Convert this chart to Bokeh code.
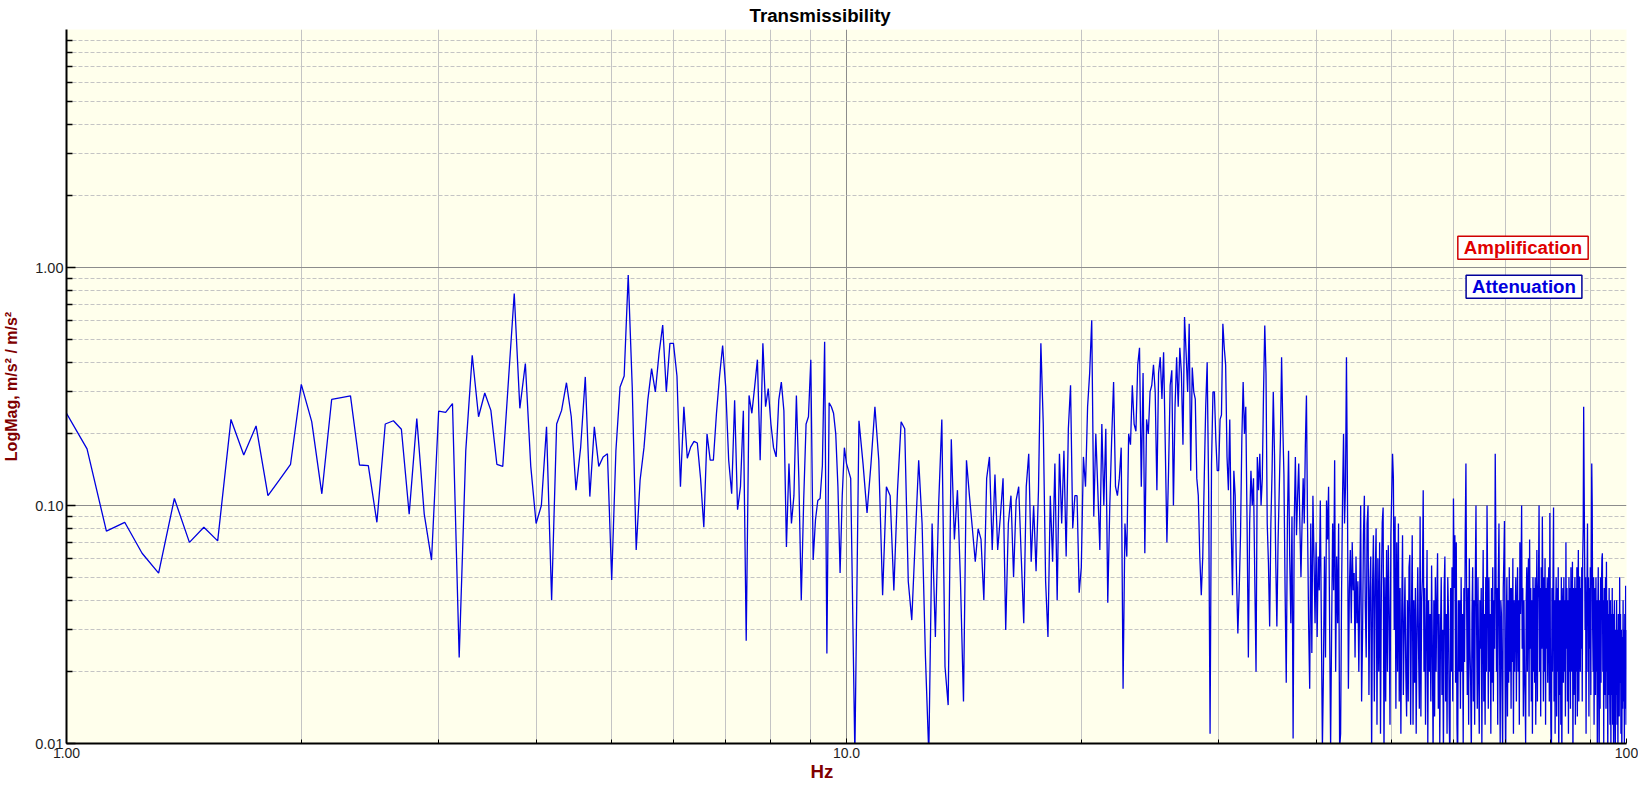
import numpy as np
from bokeh.plotting import figure
from bokeh.models import Range1d, FixedTicker, Label, Title
from bokeh.embed import file_html
from bokeh.resources import INLINE

# ---- data: transmissibility magnitude (m/s^2 / m/s^2) ----
# 1.0 .. 10.0 Hz, 0.0625 Hz resolution (one row per Hz)
mag_low = [
    0.244, 0.173, 0.078, 0.085, 0.063, 0.052, 0.107, 0.070, 0.081, 0.071, 0.230, 0.163, 0.216, 0.110, 0.128, 0.149,
    0.323, 0.225, 0.112, 0.279, 0.284, 0.289, 0.148, 0.147, 0.085, 0.220, 0.227, 0.209, 0.092, 0.232, 0.092, 0.059,
    0.249, 0.246, 0.268, 0.023, 0.17, 0.428, 0.236, 0.297, 0.251, 0.149, 0.146, 0.34, 0.778, 0.256, 0.395, 0.146,
    0.084, 0.10, 0.214, 0.040, 0.22, 0.251, 0.328, 0.236, 0.116, 0.176, 0.347, 0.109, 0.214, 0.146, 0.16, 0.165,
    0.0486, 0.17, 0.315, 0.35, 0.93, 0.315, 0.065, 0.128, 0.175, 0.277, 0.376, 0.30, 0.435, 0.573, 0.30, 0.48,
    0.48, 0.35, 0.12, 0.26, 0.158, 0.176, 0.186, 0.183, 0.13, 0.081, 0.20, 0.155, 0.155, 0.244, 0.35, 0.47,
    0.315, 0.155, 0.112, 0.277, 0.096, 0.12, 0.25, 0.027, 0.29, 0.244, 0.315, 0.41, 0.155, 0.48, 0.26, 0.31,
    0.22, 0.175, 0.16, 0.277, 0.33, 0.25, 0.067, 0.15, 0.084, 0.11, 0.29, 0.13, 0.040, 0.105, 0.22, 0.236,
    0.41, 0.059, 0.087, 0.105, 0.107, 0.147, 0.487, 0.0239, 0.27, 0.26, 0.244, 0.20, 0.12, 0.052, 0.11, 0.175,
    0.15,
]

# 10.125 .. 100 Hz, 0.125 Hz steps (one row per Hz)
mag_high = [
    0.13, 0.009, 0.227, 0.15, 0.093, 0.15, 0.26, 0.155,
    0.042, 0.12, 0.11, 0.044, 0.116, 0.225, 0.21, 0.048,
    0.033, 0.072, 0.155, 0.084, 0.023, 0.009, 0.084, 0.028,
    0.10, 0.23, 0.021, 0.0145, 0.19, 0.072, 0.116, 0.048,
    0.015, 0.155, 0.11, 0.08, 0.058, 0.08, 0.072, 0.040,
    0.13, 0.16, 0.065, 0.135, 0.065, 0.09, 0.13, 0.030,
    0.084, 0.11, 0.05, 0.105, 0.12, 0.061, 0.032, 0.12,
    0.165, 0.058, 0.10, 0.053, 0.116, 0.48, 0.22, 0.048,
    0.028, 0.11, 0.058, 0.15, 0.040, 0.165, 0.084, 0.17,
    0.061, 0.21, 0.32, 0.08, 0.11, 0.11, 0.043, 0.055,
    0.16, 0.12, 0.26, 0.36, 0.60, 0.09, 0.20, 0.116,
    0.065, 0.22, 0.10, 0.21, 0.039, 0.097, 0.19, 0.33,
    0.12, 0.11, 0.13, 0.175, 0.017, 0.084, 0.061, 0.20,
    0.18, 0.32, 0.22, 0.205, 0.39, 0.46, 0.12, 0.36,
    0.063, 0.23, 0.20, 0.30, 0.32, 0.39, 0.30, 0.116,
    0.36, 0.42, 0.28, 0.44, 0.18, 0.07, 0.14, 0.32,
    0.37, 0.10, 0.26, 0.42, 0.26, 0.46, 0.36, 0.18,
    0.62, 0.44, 0.30, 0.58, 0.14, 0.38, 0.30, 0.28,
    0.13, 0.11, 0.061, 0.042, 0.061, 0.13, 0.26, 0.40,
    0.116, 0.011, 0.15, 0.30, 0.30, 0.19, 0.14, 0.14,
    0.23, 0.24, 0.58, 0.46, 0.39, 0.16, 0.116, 0.23,
    0.084, 0.042, 0.14, 0.11, 0.05, 0.029, 0.044, 0.075,
    0.19, 0.33, 0.20, 0.26, 0.084, 0.023, 0.084, 0.14,
    0.10, 0.13, 0.05, 0.02, 0.16, 0.116, 0.165, 0.10,
    0.13, 0.30, 0.57, 0.36, 0.084, 0.057, 0.031, 0.084,
    0.14, 0.30, 0.165, 0.061, 0.031, 0.07, 0.116, 0.19,
    0.42, 0.22, 0.135, 0.044, 0.018, 0.084, 0.17, 0.061,
    0.032, 0.09, 0.0105, 0.084, 0.16, 0.075, 0.11, 0.15,
    0.084, 0.05, 0.084, 0.13, 0.084, 0.18, 0.29, 0.084,
    0.032, 0.017, 0.084, 0.024, 0.11, 0.061, 0.032, 0.07,
    0.028, 0.061, 0.044, 0.105, 0.032, 0.0095, 0.020, 0.061,
    0.023, 0.105, 0.072, 0.12, 0.032, 0.0097, 0.03, 0.084,
    0.044, 0.155, 0.02, 0.061, 0.032, 0.084, 0.0095, 0.011,
    0.044, 0.11, 0.20, 0.084, 0.12, 0.42, 0.116, 0.017,
    0.044, 0.065, 0.032, 0.07, 0.044, 0.052, 0.023, 0.061,
    0.032, 0.048, 0.02, 0.044, 0.10, 0.015, 0.028, 0.075,
    0.11, 0.038, 0.023, 0.084, 0.10, 0.016, 0.044, 0.061,
    0.009, 0.045, 0.075, 0.015, 0.05, 0.08, 0.012, 0.06,
    0.02, 0.07, 0.011, 0.045, 0.085, 0.098, 0.009, 0.05,
    0.015, 0.065, 0.02, 0.068, 0.035, 0.012, 0.075, 0.11,
    0.165, 0.13, 0.03, 0.09, 0.014, 0.07, 0.02, 0.084,
    0.015, 0.045, 0.011, 0.035, 0.075, 0.016, 0.03, 0.05,
    0.02, 0.013, 0.04, 0.015, 0.055, 0.062, 0.012, 0.035,
    0.075, 0.012, 0.04, 0.018, 0.045, 0.011, 0.03, 0.055,
    0.025, 0.014, 0.09, 0.013, 0.04, 0.05, 0.116, 0.02,
    0.045, 0.012, 0.03, 0.065, 0.01, 0.04, 0.02, 0.035,
    0.015, 0.056, 0.025, 0.009, 0.04, 0.013, 0.05, 0.02,
    0.04, 0.063, 0.014, 0.035, 0.01, 0.03, 0.05, 0.016,
    0.03, 0.009, 0.045, 0.061, 0.015, 0.035, 0.011, 0.05,
    0.035, 0.013, 0.008, 0.045, 0.02, 0.055, 0.015, 0.107,
    0.045, 0.075, 0.018, 0.07, 0.012, 0.008, 0.04, 0.02,
    0.04, 0.014, 0.05, 0.02, 0.035, 0.01, 0.045, 0.022,
    0.075, 0.15, 0.04, 0.016, 0.045, 0.012, 0.06, 0.025,
    0.018, 0.009, 0.035, 0.055, 0.015, 0.04, 0.012, 0.05,
    0.10, 0.03, 0.014, 0.05, 0.02, 0.011, 0.04, 0.025,
    0.045, 0.01, 0.03, 0.065, 0.015, 0.035, 0.012, 0.05,
    0.02, 0.10, 0.045, 0.014, 0.05, 0.02, 0.035, 0.011,
    0.045, 0.018, 0.055, 0.015, 0.04, 0.025, 0.165, 0.07,
    0.02, 0.045, 0.012, 0.05, 0.084, 0.025, 0.01, 0.04,
    0.035, 0.016, 0.009, 0.045, 0.06, 0.086, 0.02, 0.008,
    0.03, 0.05, 0.013, 0.04, 0.018, 0.055, 0.02, 0.045,
    0.014, 0.045, 0.022, 0.06, 0.011, 0.04, 0.02, 0.035,
    0.05, 0.015, 0.035, 0.055, 0.02, 0.04, 0.012, 0.07,
    0.035, 0.05, 0.10, 0.025, 0.045, 0.013, 0.04, 0.02,
    0.016, 0.01, 0.04, 0.055, 0.02, 0.045, 0.06, 0.013,
    0.072, 0.025, 0.045, 0.015, 0.04, 0.011, 0.05, 0.02,
    0.045, 0.018, 0.05, 0.012, 0.035, 0.065, 0.015, 0.04,
    0.05, 0.10, 0.02, 0.045, 0.013, 0.055, 0.025, 0.09,
    0.04, 0.015, 0.05, 0.02, 0.06, 0.012, 0.045, 0.025,
    0.05, 0.018, 0.04, 0.055, 0.015, 0.093, 0.025, 0.012,
    0.009, 0.045, 0.02, 0.05, 0.098, 0.015, 0.04, 0.011,
    0.035, 0.05, 0.013, 0.045, 0.02, 0.055, 0.008, 0.04,
    0.016, 0.04, 0.012, 0.05, 0.008, 0.035, 0.045, 0.018,
    0.05, 0.02, 0.04, 0.013, 0.07, 0.025, 0.045, 0.015,
    0.04, 0.011, 0.05, 0.02, 0.045, 0.014, 0.055, 0.025,
    0.02, 0.058, 0.008, 0.045, 0.016, 0.035, 0.05, 0.012,
    0.045, 0.02, 0.055, 0.013, 0.04, 0.065, 0.015, 0.05,
    0.05, 0.02, 0.045, 0.025, 0.055, 0.015, 0.06, 0.08,
    0.26, 0.12, 0.06, 0.03, 0.05, 0.011, 0.035, 0.045,
    0.084, 0.02, 0.05, 0.013, 0.045, 0.025, 0.055, 0.016,
    0.06, 0.15, 0.10, 0.03, 0.02, 0.05, 0.012, 0.035,
    0.045, 0.016, 0.05, 0.02, 0.04, 0.009, 0.035, 0.055,
    0.02, 0.008, 0.04, 0.014, 0.05, 0.018, 0.045, 0.06,
    0.063, 0.02, 0.04, 0.01, 0.045, 0.016, 0.035, 0.05,
    0.014, 0.058, 0.02, 0.04, 0.008, 0.035, 0.016, 0.045,
    0.02, 0.012, 0.04, 0.009, 0.035, 0.016, 0.045, 0.012,
    0.035, 0.01, 0.03, 0.04, 0.013, 0.008, 0.03, 0.016,
    0.04, 0.012, 0.03, 0.009, 0.035, 0.015, 0.013, 0.05,
    0.018, 0.035, 0.011, 0.03, 0.008, 0.028, 0.014, 0.04,
    0.015, 0.03, 0.01, 0.035, 0.014, 0.046, 0.012, 0.03,
]

freq_low = 1.0 + 0.0625 * np.arange(len(mag_low))
freq_high = 10.125 + 0.125 * np.arange(len(mag_high))
freq = np.concatenate([freq_low, freq_high])
mag = np.array(mag_low + mag_high)

x_major_ticks = [1, 10, 100]
x_tick_labels = ["1.00", "10.0", "100"]
y_major_ticks = [0.01, 0.1, 1.0]
y_tick_labels = ["0.01", "0.10", "1.00"]
decades = [0.01, 0.1, 1.0, 10.0]
mantissas = [2, 3, 4, 5, 6, 7, 8, 9]

title_text = "Transmissibility"
x_label = "Hz"
y_label = "LogMag, m/s² / m/s²"
zone_labels = ["Amplification", "Attenuation"]

FONT = "Liberation Sans"

# ---- main plot (frame: x 65..1626, y 29..743 on the page) ----
p = figure(width=1638, height=786, x_axis_type="log", y_axis_type="log",
           x_range=Range1d(1, 100), y_range=Range1d(0.01, 10),
           output_backend="svg", toolbar_location=None,
           min_border_left=65, min_border_right=12, min_border_top=29, min_border_bottom=43)
p.background_fill_color = "#FFFFEC"
p.border_fill_color = "white"
p.outline_line_color = None

p.title.text = title_text
p.title.align = "left"
p.title.offset = 683
p.title.vertical_align = "top"
p.title.standoff = 4
p.title.text_font = FONT
p.title.text_font_size = "18.7px"
p.title.text_font_style = "bold"
p.title.text_color = "black"

x_minor = [m * d for d in decades[2:] for m in mantissas]
y_minor = [m * d for d in decades[:3] for m in mantissas]

p.xaxis.ticker = FixedTicker(ticks=x_major_ticks, minor_ticks=x_minor)
p.yaxis.ticker = FixedTicker(ticks=y_major_ticks, minor_ticks=y_minor)
p.xgrid.ticker = FixedTicker(ticks=[10], minor_ticks=x_minor)
p.ygrid.ticker = FixedTicker(ticks=[0.1, 1.0], minor_ticks=y_minor)

for ax in (p.xaxis, p.yaxis):
    ax.axis_line_color = "black"
    ax.axis_line_width = 2
    ax.major_tick_line_color = "black"
    ax.minor_tick_line_color = "black"
    ax.major_tick_out = 0
    ax.minor_tick_out = 0
    ax.major_label_text_font = FONT
    ax.major_label_text_color = "#1E1E1E"

p.xaxis.major_label_overrides = {v: t for v, t in zip(x_major_ticks, x_tick_labels)}
p.xaxis.major_label_text_font_size = "14px"
p.xaxis.major_label_standoff = 4
p.xaxis.major_tick_in = 5
p.xaxis.minor_tick_in = 4

p.yaxis.major_label_overrides = {v: t for v, t in zip(y_major_ticks, y_tick_labels)}
p.yaxis.major_label_text_font_size = "14.5px"
p.yaxis.major_label_standoff = 3
p.yaxis.major_tick_in = 9
p.yaxis.minor_tick_in = 6
p.yaxis.major_tick_line_width = 1.5
p.yaxis.minor_tick_line_width = 1.5
p.yaxis.axis_label = y_label
p.yaxis.axis_label_standoff = 12
p.yaxis.axis_label_text_font = FONT
p.yaxis.axis_label_text_font_size = "16px"
p.yaxis.axis_label_text_font_style = "bold"
p.yaxis.axis_label_text_color = "#800000"

p.add_layout(Title(text=x_label, align="left", offset=744, vertical_align="top", standoff=0,
                   text_font=FONT, text_font_size="18.7px", text_font_style="bold",
                   text_color="#800000"), "below")

p.xgrid.grid_line_color = "#8C8C8C"
p.xgrid.minor_grid_line_color = "#C4C4C4"
p.ygrid.grid_line_color = "#8C8C8C"
p.ygrid.minor_grid_line_color = "#C4C4C4"
p.ygrid.minor_grid_line_dash = "4 2"

p.line(freq, mag, line_color="#0000E0", line_width=1.3)

zone_text_colors = ["#E00000", "#0000DD"]
zone_border_colors = ["#D00000", "#000099"]
zone_dx = [1456.5, 1457.5]
zone_dy = [495.8, 456.8]
for t, tc, bc, dx, dy in zip(zone_labels, zone_text_colors, zone_border_colors, zone_dx, zone_dy):
    p.add_layout(Label(x=1, y=0.01, text=t, x_offset=dx, y_offset=dy,
                       text_font=FONT, text_align="center", text_baseline="middle",
                       text_font_size="18.7px", text_font_style="bold", text_color=tc,
                       background_fill_color="white", border_line_color=bc,
                       border_line_width=1.5, padding=dict(x=6, y=1)))

open("out.html", "w").write(file_html(p, INLINE))
